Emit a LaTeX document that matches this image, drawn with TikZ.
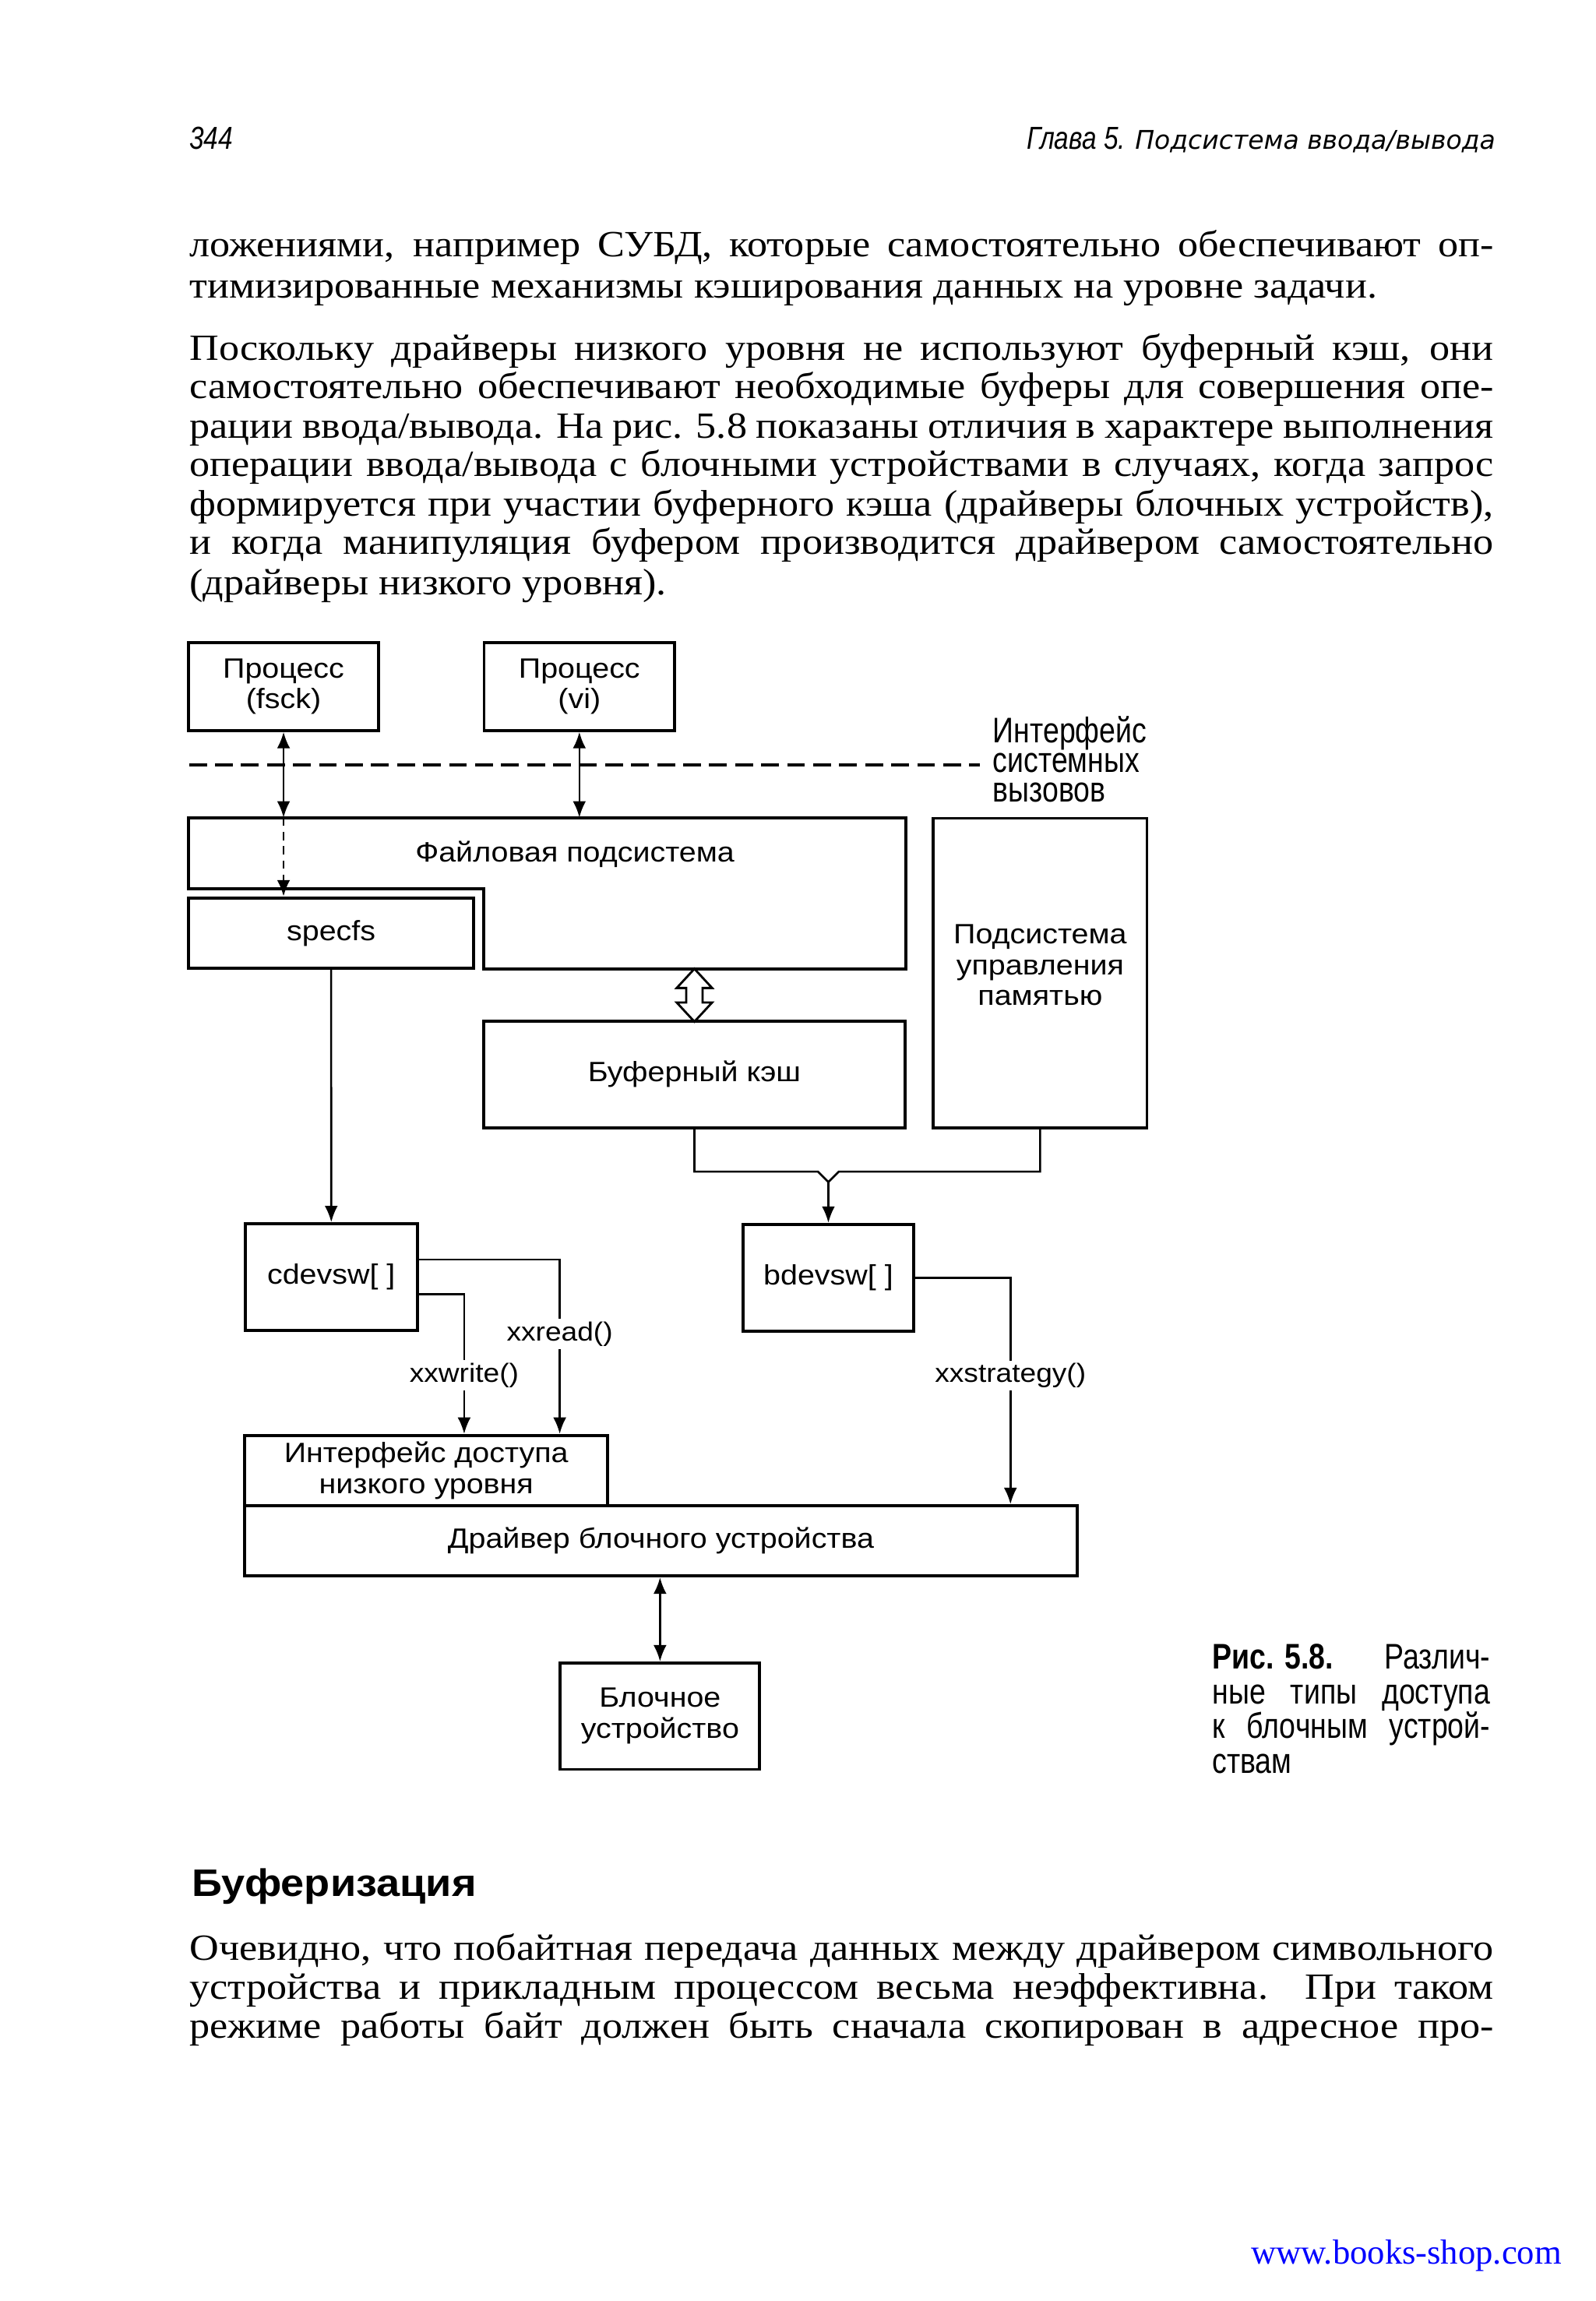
\documentclass[tikz,border=0pt]{standalone}
\usepackage{fontspec}
\setmainfont{Liberation Serif}
\setsansfont{Liberation Sans}
\newfontfamily\bodyserif[FakeStretch=1.1]{Liberation Serif}
\newfontfamily\diagsf[FakeStretch=1.1]{Liberation Sans}
\newfontfamily\narrowsf[FakeStretch=0.82]{Liberation Sans}
\newfontfamily\headit{DejaVu Sans Oblique}
\usepackage{xcolor}
\usetikzlibrary{arrows.meta}
\newlength\pxu
\setlength\pxu{0.1896mm}
\newcommand\bodyline[1]{\makebox[883\pxu][s]{#1}}
\newcommand\capline[1]{\makebox[188\pxu][s]{#1}}
\tikzset{box style/.style = {%
  draw = black,
  line width = 1.1pt,
  inner sep = 0pt,
  align = center,
  font = \diagsf\fontsize{10.2}{11.3}\selectfont
 },
 line style/.style = {line width = 0.75pt},
 arrow style/.style = {line style, -{Latex[length=6pt,width=4.8pt]}},
 both style/.style = {line style, {Latex[length=6pt,width=4.8pt]}-{Latex[length=6pt,width=4.8pt]}},
 call style/.style = {fill = white, inner sep = 1pt, font = \diagsf\fontsize{9.6}{11}\selectfont},
 text style/.style = {anchor = base west, inner sep = 0pt, font = \bodyserif\fontsize{13.5}{14}\selectfont},
 caption style/.style = {anchor = base west, inner sep = 0pt, font = \narrowsf\fontsize{13}{13}\selectfont}
}

\begin{document}
\begin{tikzpicture}[x=0.1896mm,y=-0.1896mm]
      \fill[white] (0,0) rectangle (1080.2,1558);
      \useasboundingbox (0,0) rectangle (1080.2,1558);

      \node[anchor=base west, inner sep=0pt, font=\narrowsf\itshape\fontsize{11.6}{12}\selectfont] (pagenum) at (128,101.2) {344};
      \node[anchor=base east, inner sep=0pt] (runhead) at (1013,101.2) {{\narrowsf\itshape\fontsize{11.6}{12}\selectfont Глава 5. }{\headit\fontsize{9.4}{10}\selectfont Подсистема ввода/вывода}};

      \node[text style] (p1a) at (128,174) {\bodyline{ложениями, например СУБД, которые самостоятельно обеспечивают оп-}};
      \node[text style] (p1b) at (128,201.6) {тимизированные механизмы кэширования данных на уровне задачи.};
      \node[text style] (p2a) at (128,244) {\bodyline{Поскольку драйверы низкого уровня не используют буферный кэш, они}};
      \node[text style] (p2b) at (128,270) {\bodyline{самостоятельно обеспечивают необходимые буферы для совершения опе-}};
      \node[text style] (p2c) at (128,296.5) {\bodyline{рации ввода/вывода. На рис. 5.8 показаны отличия в характере выполнения}};
      \node[text style] (p2d) at (128,322.5) {\bodyline{операции ввода/вывода с блочными устройствами в случаях, когда запрос}};
      \node[text style] (p2e) at (128,349.5) {\bodyline{формируется при участии буферного кэша (драйверы блочных устройств),}};
      \node[text style] (p2f) at (128,375.5) {\bodyline{и когда манипуляция буфером производится драйвером самостоятельно}};
      \node[text style] (p2g) at (128,402.7) {(драйверы низкого уровня).};

      \node[box style, minimum width=129\pxu, minimum height=59.5\pxu] (fsck) at (192,464.8) {Процесс\\(fsck)};
      \node[box style, minimum width=129\pxu, minimum height=59.5\pxu] (vi) at (392.3,464.8) {Процесс\\(vi)};

      \node[anchor=west, align=left, inner sep=0pt, font=\narrowsf\fontsize{13}{10.8}\selectfont] (sysif) at (672,514.3) {Интерфейс\\системных\\вызовов};
      \coordinate (ifl) at (128,518);
      \coordinate (ifr) at (663.5,518);
      \draw[line width=1pt, dash pattern=on 6.5pt off 3pt] (ifl) -- (ifr);

      \node[minimum width=485\pxu, minimum height=101.6\pxu, inner sep=0pt] (fs) at (370.5,604.8) {};
      \coordinate (fsnotch) at (327.6,602);
      \draw[line width=1.1pt] (fs.north west) -- (fs.north east) -- (fs.south east) -- (fsnotch |- fs.south) -- (fsnotch) -- (fsnotch -| fs.west) -- cycle;
      \node[font=\diagsf\fontsize{10.2}{11.3}\selectfont] (fslabel) at (389.3,578.4) {Файловая подсистема};
      \node[box style, minimum width=193.3\pxu, minimum height=47.6\pxu] (specfs) at (224.2,631.8) {specfs};
      \node[box style, minimum width=144.6\pxu, minimum height=209.5\pxu] (mem) at (704.3,658.8) {};
      \node[align=center, font=\diagsf\fontsize{10.2}{11.3}\selectfont] (memlabel) at (704.3,653.5) {Подсистема\\управления\\памятью};
      \node[box style, minimum width=285.6\pxu, minimum height=72.1\pxu] (buf) at (470.2,727.5) {Буферный кэш};
      \node[box style, minimum width=116.6\pxu, minimum height=72.4\pxu] (cdev) at (224.3,864.8) {cdevsw[ ]};
      \node[box style, minimum width=115.7\pxu, minimum height=72.4\pxu] (bdev) at (560.9,865.2) {bdevsw[ ]};
      \node[box style, minimum width=246\pxu, minimum height=47.4\pxu] (low) at (288.6,995.6) {Интерфейс доступа\\низкого уровня};
      \node[box style, minimum width=564\pxu, minimum height=47.5\pxu] (drv) at (447.5,1043.25) {Драйвер блочного устройства};
      \node[box style, minimum width=135\pxu, minimum height=72\pxu] (blk) at (446.9,1162) {Блочное\\устройство};

      \draw[both style] (fsck.south) -- (fsck.south |- fs.north);
      \draw[arrow style, dash pattern=on 3pt off 2.2pt] (fsck.south |- fs.north) -- (fsck.south |- specfs.north);
      \draw[both style] (vi.south) -- (vi.south |- fs.north);
      \draw[arrow style] (specfs.south) -- (cdev.north);

      \coordinate (hatop) at (buf.north |- fs.south);
      \draw[line width=0.8pt] (hatop) -- ++(12,13) -- ++(-6.5,0) -- ++(0,9.8) -- ++(6.5,0) -- ++(-12,13)
        -- ++(-12,-13) -- ++(6.5,0) -- ++(0,-9.8) -- ++(-6.5,0) -- cycle;

      \coordinate (mrg) at (560.9,793.3);
      \draw[line style] (buf.south) |- ([xshift=-7\pxu]mrg) -- ([yshift=-7\pxu]mrg) -- ([xshift=7\pxu]mrg) -| (mem.south);
      \draw[arrow style] ([yshift=-7\pxu]mrg) -- (bdev.north);

      \draw[arrow style] ([yshift=12\pxu]cdev.east) -| node[call style, pos=0.713] (rdcall) {xxread()} ([xshift=90.4\pxu]low.north);
      \draw[arrow style] ([yshift=-11.6\pxu]cdev.east) -| node[call style, pos=0.79] (wrcall) {xxwrite()} ([xshift=25.7\pxu]low.north);
      \draw[arrow style] (bdev.east) -| node[call style, pos=0.716] (stcall) {xxstrategy()} ([xshift=236.7\pxu]drv.north);
      \draw[both style] (blk.north |- drv.south) -- (blk.north);

      \node[caption style] (cap1) at (820.6,1130) {\capline{\hbox{\bfseries Рис. 5.8.} Различ-}};
      \node[caption style] (cap2) at (820.6,1153.5) {\capline{ные типы доступа}};
      \node[caption style] (cap3) at (820.6,1177) {\capline{к блочным устрой-}};
      \node[caption style] (cap4) at (820.6,1200.5) {ствам};

      \node[anchor=base west, inner sep=0pt, font=\diagsf\bfseries\fontsize{14}{16}\selectfont] (sect) at (129.7,1284) {Буферизация};

      \node[text style] (p3a) at (128,1327) {\bodyline{Очевидно, что побайтная передача данных между драйвером символьного}};
      \node[text style] (p3b) at (128,1353.5) {\bodyline{устройства и прикладным процессом весьма неэффективна. При таком}};
      \node[text style] (p3c) at (128,1380) {\bodyline{режиме работы байт должен быть сначала скопирован в адресное про-}};

      \node[anchor=base east, inner sep=0pt, text=blue, font=\fontsize{12.7}{14}\selectfont] (url) at (1057.8,1533) {www.books-shop.com};
\end{tikzpicture}
\end{document}
